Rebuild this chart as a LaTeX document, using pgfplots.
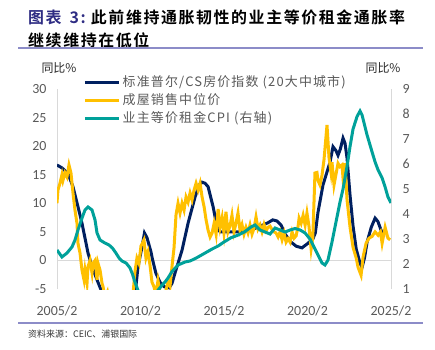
\documentclass[border=0pt]{standalone}
\usepackage{fontspec}
\setmainfont{Carlito}
\newfontfamily\cjk{Noto Sans CJK SC}
\newfontfamily\cjkleg{Noto Sans CJK SC}[LetterSpace=9.0]
\newfontfamily\cjktitle{Noto Sans CJK SC Bold}[LetterSpace=10.0]
\usepackage{pgfplots}
\pgfplotsset{compat=1.18}
\definecolor{cs}{HTML}{002060}
\definecolor{med}{HTML}{FFC000}
\definecolor{oer}{HTML}{00A19A}
\definecolor{ttl}{HTML}{2E2C83}
\definecolor{rulec}{HTML}{8C8CC8}
\definecolor{tk}{HTML}{595959}
\definecolor{gridc}{HTML}{D9D9D9}

\pgfplotstableread{
x y
2005.08 16.7
2005.38 16.2
2005.74 15.2
2006.04 12.9
2006.34 9.4
2006.58 6.5
2006.76 3.9
2006.94 1.3
2007.18 -1.1
2007.48 -3.4
2007.78 -5.6
2008.10 -11
2008.50 -16
2008.90 -18.5
2009.20 -18.8
2009.50 -14
2009.70 -8
2009.81 -4.5
2009.93 -1.2
2010.17 2.3
2010.32 4.8
2010.47 4.0
2010.71 1.5
2010.80 0.2
2011.00 -2.2
2011.25 -3.8
2011.50 -4.6
2011.80 -4.8
2011.97 -4.0
2012.15 -2.2
2012.57 1.8
2012.93 6.5
2013.35 11.1
2013.60 13.2
2013.77 13.7
2013.95 13.5
2014.13 12.9
2014.43 9.4
2014.67 5.8
2014.85 5.0
2015.10 5.0
2015.50 5.0
2016.00 5.0
2016.60 5.2
2017.10 5.8
2017.72 6.6
2018.00 7.1
2018.26 6.9
2018.50 6.2
2018.74 4.6
2019.10 3.2
2019.40 2.5
2019.75 2.2
2020.11 3.0
2020.41 3.8
2020.55 4.8
2020.71 8.4
2021.01 13.2
2021.43 17.2
2021.61 19.9
2021.79 19.2
2021.91 18.4
2022.05 19.5
2022.21 21.4
2022.33 20.5
2022.45 17.9
2022.63 11.4
2022.81 6.0
2023.00 2.0
2023.23 -0.5
2023.35 -1.2
2023.50 0.5
2023.65 3.2
2023.90 5.8
2024.13 7.4
2024.30 6.8
2024.50 5.2
2024.65 4.1
}\tcs

\pgfplotstableread{
x y
2005.08 10.0
2005.14 12.3
2005.26 13.5
2005.38 15.0
2005.44 14.0
2005.56 15.3
2005.68 14.6
2005.80 16.7
2005.92 15.3
2006.04 11.8
2006.16 8.8
2006.28 6.5
2006.34 3.0
2006.46 1.3
2006.58 -1.7
2006.70 -3.4
2006.76 -1.7
2006.88 -4.0
2006.94 -1.1
2007.06 0.0
2007.18 -2.2
2007.24 -0.5
2007.36 0.0
2007.48 -3.4
2007.54 -0.5
2007.66 -1.7
2007.78 -4.0
2007.84 -4.6
2007.96 -6.5
2008.10 -5.5
2008.30 -9
2008.60 -12
2008.90 -10
2009.10 -15
2009.40 -13
2009.63 -6
2009.75 -2.0
2009.87 0.4
2009.99 -0.5
2010.11 2.5
2010.29 3.6
2010.41 0.4
2010.53 1.5
2010.65 -0.8
2010.77 -3.8
2010.89 -4.6
2011.00 -6
2011.13 -3.5
2011.25 -5.5
2011.40 -7
2011.60 -5.3
2011.73 -3.8
2011.85 -4.5
2011.97 -1.0
2012.09 2.2
2012.21 8.0
2012.33 10.0
2012.45 8.3
2012.57 10.0
2012.69 8.8
2012.81 11.1
2012.93 10.2
2013.05 11.8
2013.17 10.6
2013.29 12.3
2013.41 13.5
2013.53 12.3
2013.65 13.5
2013.77 11.1
2013.89 9.4
2014.01 7.1
2014.13 5.3
2014.25 4.1
2014.37 4.8
2014.49 6.5
2014.61 4.6
2014.73 9.0
2014.85 5.8
2014.97 7.5
2015.08 4.8
2015.20 8.5
2015.32 5.0
2015.44 6.0
2015.56 7.9
2015.68 5.0
2015.80 6.5
2015.92 8.3
2016.04 5.3
2016.16 6.3
2016.28 4.6
2016.40 5.8
2016.52 4.8
2016.64 6.2
2016.76 4.6
2016.88 5.6
2017.00 7.6
2017.12 5.5
2017.24 6.2
2017.36 5.0
2017.48 6.3
2017.60 5.2
2017.72 5.8
2017.84 6.0
2017.96 5.4
2018.08 5.0
2018.20 4.8
2018.32 4.1
2018.44 5.0
2018.56 3.6
2018.68 4.8
2018.80 3.2
2018.92 3.8
2019.04 3.2
2019.16 5.0
2019.28 3.9
2019.40 4.3
2019.52 6.0
2019.58 7.4
2019.70 6.5
2019.82 7.9
2019.94 6.2
2020.05 8.3
2020.17 6.0
2020.30 2.0
2020.40 4.0
2020.53 15.3
2020.65 15.4
2020.71 14.0
2020.83 13.2
2020.95 14.9
2021.07 17.6
2021.25 23.7
2021.37 18.0
2021.49 15.4
2021.55 17.2
2021.67 13.2
2021.91 17.0
2022.03 16.4
2022.15 16.7
2022.21 14.4
2022.33 17.0
2022.45 10.6
2022.63 5.8
2022.81 2.3
2023.00 0.4
2023.11 -1.2
2023.29 -2.6
2023.41 0.6
2023.59 3.0
2023.77 3.9
2023.95 4.2
2024.13 5.0
2024.31 4.4
2024.45 5.0
2024.55 3.0
2024.73 5.8
2024.90 3.9
2025.03 3.6
}\tmed

\pgfplotstableread{
x y
2005.08 2.56
2005.38 2.28
2005.68 2.44
2005.98 2.68
2006.16 2.96
2006.34 3.36
2006.58 3.84
2006.76 4.16
2006.94 4.28
2007.18 4.16
2007.36 3.76
2007.48 3.24
2007.66 2.96
2007.95 2.84
2008.20 2.76
2008.40 2.64
2008.60 2.45
2008.80 2.24
2008.98 2.12
2009.22 2.04
2009.45 1.85
2009.60 1.60
2009.75 1.28
2009.93 0.95
2010.30 0.40
2010.60 0.20
2010.90 0.50
2011.13 0.95
2011.37 1.15
2011.55 1.28
2011.73 1.44
2011.97 1.70
2012.33 1.96
2012.75 2.08
2013.05 2.12
2013.30 2.20
2013.53 2.28
2013.95 2.44
2014.37 2.60
2014.73 2.72
2015.08 2.88
2015.50 3.05
2015.90 3.15
2016.30 3.28
2016.70 3.48
2016.94 3.56
2017.24 3.36
2017.54 3.28
2017.84 3.20
2018.14 3.44
2018.44 3.36
2018.74 3.28
2019.04 3.36
2019.34 3.42
2019.64 3.36
2019.94 3.24
2020.23 3.00
2020.47 2.68
2020.71 2.36
2020.95 2.04
2021.13 1.96
2021.31 2.16
2021.55 2.88
2021.79 3.68
2022.03 4.48
2022.21 5.00
2022.45 5.90
2022.63 6.70
2022.81 7.40
2023.05 7.90
2023.23 8.12
2023.35 7.96
2023.65 7.16
2023.95 6.48
2024.13 6.08
2024.31 5.76
2024.55 5.44
2024.73 5.08
2024.90 4.68
2025.08 4.44
}\toer

\begin{document}
\begin{tikzpicture}[x=1bp,y=1bp]
\useasboundingbox (0,0) rectangle (435,349);
% title
\node[anchor=west,inner sep=0] at (28,332) {\cjktitle\fontsize{16}{18}\selectfont{\color{ttl}图表\ \,3:}\ 此前维持通胀韧性的业主等价租金通胀率};
\node[anchor=west,inner sep=0] at (28,309) {\cjktitle\fontsize{16}{18}\selectfont 继续维持在低位};
\draw[rulec,line width=1.5bp] (18,301) -- (423,301);
\draw[rulec,line width=1.5bp] (18,26) -- (423,26);
\node[anchor=west,inner sep=0,text=black!80] at (28,15) {\cjk\fontsize{9}{10}\selectfont 资料来源：CEIC、浦银国际};
\node[inner sep=0,text=black!85] at (59,281) {\cjk\fontsize{12}{14}\selectfont 同比\%};
\node[inner sep=0,text=black!85] at (383,281) {\cjk\fontsize{12}{14}\selectfont 同比\%};

\begin{axis}[
  at={(57bp,60bp)}, anchor=south west, scale only axis,
  width=334bp, height=200bp,
  xmin=2005.083, xmax=2025.083, ymin=-5, ymax=30,
  ytick={-5,0,...,30},
  xtick={2005.083,2010.083,2015.083,2020.083,2025.083},
  xticklabels={2005/2,2010/2,2015/2,2020/2,2025/2},
  axis x line*=bottom, axis y line*=left,
  x axis line style={draw=none},
  y axis line style={draw=gridc,line width=0.8bp,-},
  major tick length=0pt,
  /pgf/number format/assume math mode=true,
  ticklabel style={font=\fontsize{14}{16}\selectfont, text=tk},
  yticklabel style={xshift=-7bp},
  xticklabel style={yshift=-13bp},
  legend style={draw=none, fill=none, at={(0.069,1.075)}, anchor=north west,
    font=\cjkleg\fontsize{13}{15}\selectfont, text=tk,
    nodes={inner ysep=0pt, text height=10bp, text depth=3bp}, row sep=5bp},
  legend cell align=left,
  legend image code/.code={\draw[#1,line width=3.5bp] (0bp,0bp) -- (34bp,0bp);},
  clip=true,
]
\addplot[gridc, line width=0.8bp, forget plot] coordinates {(2005.083,0) (2025.083,0)};
\addplot[cs, line width=3bp] table {\tcs};
\addlegendentry{标准普尔/CS房价指数 (20大中城市)}
\addplot[med, line width=3bp] table {\tmed};
\addlegendentry{成屋销售中位价}
\addlegendimage{oer, line width=3bp}
\addlegendentry{业主等价租金CPI (右轴)}
\end{axis}

\begin{axis}[
  at={(57bp,60bp)}, anchor=south west, scale only axis,
  width=334bp, height=200bp,
  xmin=2005.083, xmax=2025.083, ymin=1, ymax=9,
  ytick={1,...,9},
  axis x line=none, axis y line*=right,
  y axis line style={draw=gridc,line width=0.8bp,-},
  major tick length=0pt,
  /pgf/number format/assume math mode=true,
  ticklabel style={font=\fontsize{14}{16}\selectfont, text=tk},
  yticklabel style={xshift=8bp},
  clip=true,
]
\addplot[oer, line width=3bp] table {\toer};
\end{axis}
\end{tikzpicture}
\end{document}
